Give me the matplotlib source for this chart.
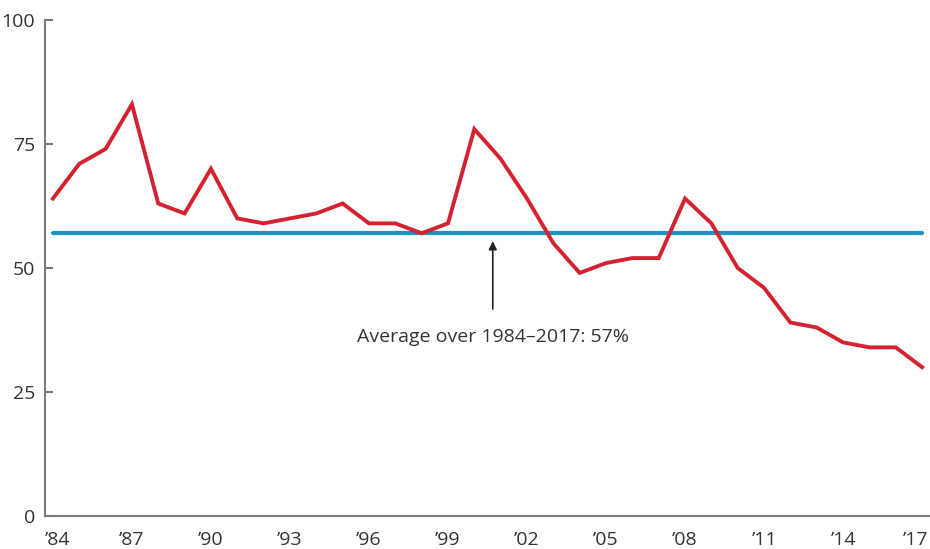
import matplotlib.pyplot as plt
from matplotlib.transforms import ScaledTranslation

years = list(range(1984, 2018))
share = [64, 71, 74, 83, 63, 61, 70, 60, 59, 60,
         61, 63, 59, 59, 57, 59, 78, 72, 64, 55,
         49, 51, 52, 52, 64, 59, 50, 46, 39, 38,
         35, 34, 34, 30]
average = 57
tick_years = list(range(1984, 2018, 3))
tick_labels = ['\u2019%02d' % (y % 100) for y in tick_years]

RED = '#d42230'
BLUE = '#1e93c0'
TEXT = '#333333'
AXIS = '#7a7a7a'

plt.rcParams['font.family'] = ['Open Sans', 'DejaVu Sans']

fig = plt.figure(figsize=(9.3, 5.49), dpi=100)
ax = fig.add_axes([45 / 930, 33 / 549, 885 / 930, 496 / 549])

ax.plot([years[0], years[-1]], [average, average], color=BLUE, lw=3,
        solid_capstyle='round', zorder=2)
ax.plot(years, share, color=RED, lw=2.8, solid_joinstyle='miter', zorder=3)

ax.annotate('Average over 1984\u20132017: 57%', xy=(2000.7, 55.4),
            xytext=(2000.7, 36), ha='center', va='center', fontsize=14,
            color=TEXT,
            arrowprops=dict(arrowstyle='-|>', color='#222222', lw=1.2,
                            shrinkA=12, shrinkB=0, mutation_scale=12))

ax.set_xlim(1983.7, 2017.3)
ax.set_ylim(0, 100)
ax.set_yticks([0, 25, 50, 75, 100])
ax.set_xticks(tick_years)
ax.set_xticklabels(tick_labels)

for side in ('top', 'right'):
    ax.spines[side].set_visible(False)
for side in ('left', 'bottom'):
    ax.spines[side].set_color(AXIS)
    ax.spines[side].set_linewidth(1.5)

ax.tick_params(axis='y', direction='in', length=6, width=1.5, color=AXIS,
               labelsize=14, labelcolor=TEXT, pad=7)
ax.tick_params(axis='x', length=0, labelsize=14, labelcolor=TEXT, pad=11)

# keep the end labels inside the plot width
xlabels = ax.get_xticklabels()
xlabels[0].set_ha('left')
xlabels[0].set_transform(xlabels[0].get_transform()
                         + ScaledTranslation(-0.08, 0, fig.dpi_scale_trans))
xlabels[-1].set_ha('right')
xlabels[-1].set_transform(xlabels[-1].get_transform()
                          + ScaledTranslation(0.06, 0, fig.dpi_scale_trans))

fig.savefig('out.png', dpi=100)
